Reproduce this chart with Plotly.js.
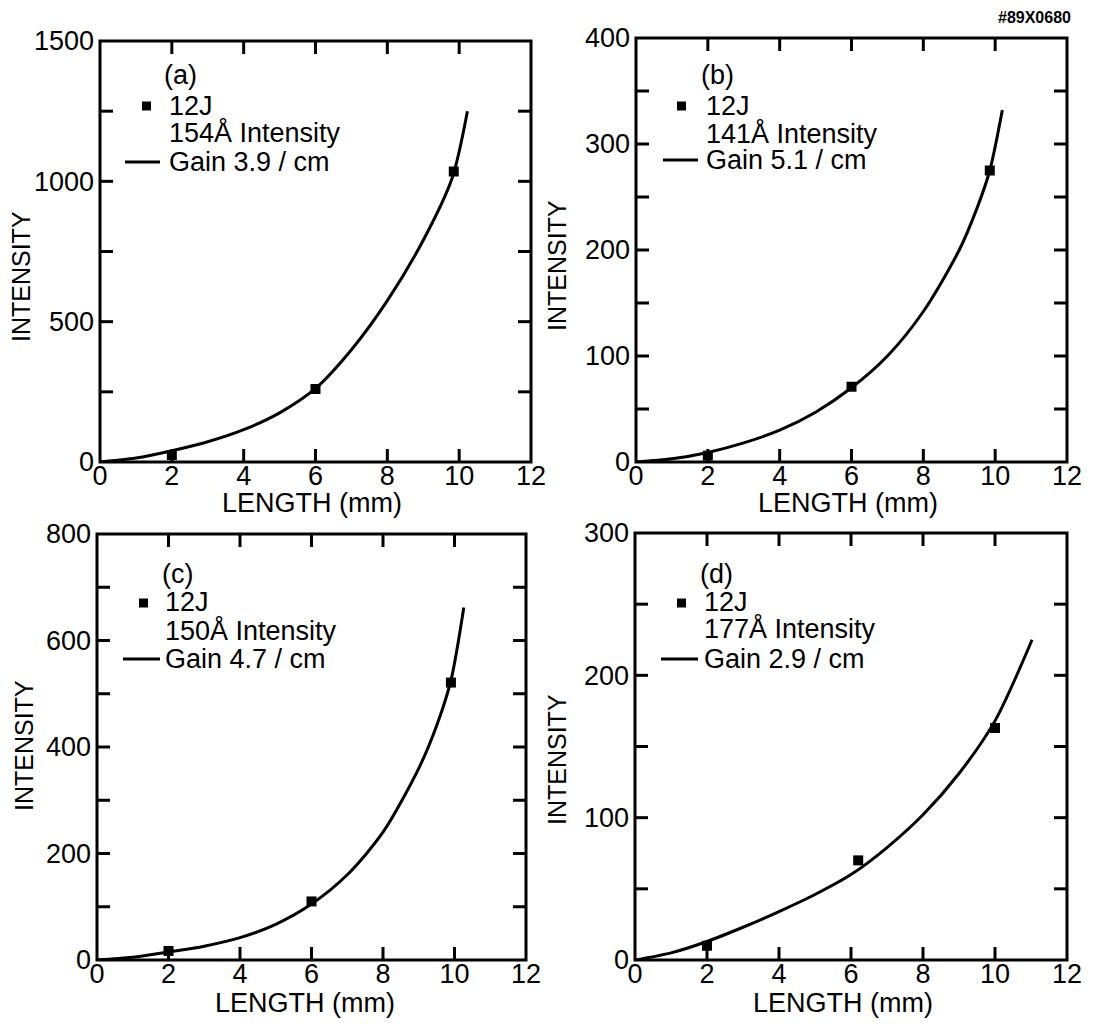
<!DOCTYPE html>
<html>
<head>
<meta charset="utf-8">
<script src="https://cdn.plot.ly/plotly-3.0.1.min.js"></script>
<style>html,body{margin:0;padding:0;background:#fff;}#chart{width:1094px;height:1024px;}</style>
</head>
<body>
<div id="chart"></div>
<script>
// ---- Data ----
// (a) 154 Å, gain 3.9 / cm
const aPtsX = [2, 6, 9.85];
const aPtsY = [25, 260, 1035];
const aFitX = [0, 1, 2, 3, 4, 5, 6, 7, 8, 9, 9.8, 10.23];
const aFitY = [0, 14, 40, 72, 115, 175, 262, 400, 575, 790, 1010, 1250];
// (b) 141 Å, gain 5.1 / cm
const bPtsX = [2, 6, 9.85];
const bPtsY = [6, 71, 275];
const bFitX = [0, 1, 2, 3, 4, 5, 6, 7, 8, 9, 9.5, 9.85, 10.2];
const bFitY = [0, 3, 9, 18, 30, 47, 70, 100, 142, 200, 240, 275, 332];
// (c) 150 Å, gain 4.7 / cm
const cPtsX = [2, 6, 9.9];
const cPtsY = [17, 110, 521];
const cFitX = [0, 1, 2, 3, 4, 5, 6, 7, 8, 9, 9.5, 9.9, 10.26];
const cFitY = [0, 5, 15, 26, 42, 67, 105, 160, 240, 360, 440, 525, 662];
// (d) 177 Å, gain 2.9 / cm
const dPtsX = [2, 6.2, 10];
const dPtsY = [10, 70, 163];
const dFitX = [0, 1, 2, 3, 4, 5, 6, 7, 8, 9, 10, 11.03];
const dFitY = [0, 5, 13, 23, 34, 46, 60, 79, 102, 131, 168, 225];

// tick positions (inside tick marks on all four sides)
const xTickVals = [2, 4, 6, 8, 10];
const aYTicks = [250, 500, 750, 1000, 1250];
const bYTicks = [50, 100, 150, 200, 250, 300, 350];
const cYTicks = [100, 200, 300, 400, 500, 600, 700];
const dYTicks = [50, 100, 150, 200, 250];

const panelLabels = ["(a)", "(b)", "(c)", "(d)"];
const energyLabel = "12J";
const lineLabels = ["154Å Intensity", "141Å Intensity", "150Å Intensity", "177Å Intensity"];
const gainLabels = ["Gain 3.9 / cm", "Gain 5.1 / cm", "Gain 4.7 / cm", "Gain 2.9 / cm"];
const xTitle = "LENGTH (mm)";
const yTitle = "INTENSITY";
const figId = "#89X0680";

// ---- Layout helpers (pixels -> paper) ----
const W = 1094, H = 1024;
const px = v => v / W;
const py = v => 1 - v / H;
const FONT = "Liberation Sans, Arial, sans-serif";

const pts = (x, y, xa, ya) => ({x, y, xaxis: xa, yaxis: ya, type: 'scatter', mode: 'markers',
  marker: {symbol: 'square', size: 10, color: '#000'}, showlegend: false, hoverinfo: 'x+y'});
const fit = (x, y, xa, ya) => ({x, y, xaxis: xa, yaxis: ya, type: 'scatter', mode: 'lines',
  line: {color: '#000', width: 3, shape: 'spline', smoothing: 0.8}, showlegend: false, hoverinfo: 'x+y'});

const data = [
  fit(aFitX, aFitY, 'x', 'y'), pts(aPtsX, aPtsY, 'x', 'y'),
  fit(bFitX, bFitY, 'x2', 'y2'), pts(bPtsX, bPtsY, 'x2', 'y2'),
  fit(cFitX, cFitY, 'x3', 'y3'), pts(cPtsX, cPtsY, 'x3', 'y3'),
  fit(dFitX, dFitY, 'x4', 'y4'), pts(dPtsX, dPtsY, 'x4', 'y4')
];

const panels = [
  {L: 100, R: 531, T: 41, B: 462, ymax: 1500, ydt: 500, yt: aYTicks},
  {L: 636, R: 1067, T: 38, B: 462, ymax: 400, ydt: 100, yt: bYTicks},
  {L: 97, R: 526, T: 534, B: 960, ymax: 800, ydt: 200, yt: cYTicks},
  {L: 635, R: 1067, T: 533, B: 960, ymax: 300, ydt: 100, yt: dYTicks}
];
const tickFont = {family: FONT, size: 27, color: '#000'};
const LABEL_LIFT = 5; // x tick labels sit a little closer to the axis in the reference
const TICK_W = 3, TICK_LEN = 13;

const layout = {
  width: W, height: H, margin: {l: 0, r: 0, t: 0, b: 0},
  paper_bgcolor: '#fff', plot_bgcolor: 'rgba(0,0,0,0)', showlegend: false,
  font: {family: FONT, color: '#000'},
  annotations: [], shapes: []
};

panels.forEach((p, i) => {
  const s = i === 0 ? '' : String(i + 1);
  layout['xaxis' + s] = {domain: [px(p.L), px(p.R)], anchor: 'free', position: py(p.B - LABEL_LIFT),
    range: [0, 12], tickmode: 'linear', dtick: 2, tick0: 0, ticks: '', showline: false,
    showgrid: false, zeroline: false, tickfont: tickFont, fixedrange: true};
  layout['yaxis' + s] = {domain: [py(p.B), py(p.T)], anchor: 'x' + s,
    range: [0, p.ymax], tickmode: 'linear', dtick: p.ydt, tick0: 0, ticks: '', showline: false,
    showgrid: false, zeroline: false, ticklabelstandoff: 5, tickfont: tickFont, fixedrange: true};
  // frame
  layout.shapes.push({type: 'rect', xref: 'paper', yref: 'paper', layer: 'above',
    x0: px(p.L), x1: px(p.R), y0: py(p.B), y1: py(p.T), line: {color: '#000', width: 3}, fillcolor: 'rgba(0,0,0,0)'});
  // inside x tick marks (bottom and top) as short line segments on the x/y scales
  const lenY = TICK_LEN * p.ymax / (p.B - p.T);
  const tx = [], ty = [];
  xTickVals.forEach(v => {
    tx.push(v, v, null, v, v, null);
    ty.push(0, lenY, null, p.ymax, p.ymax - lenY, null);
  });
  data.push({x: tx, y: ty, xaxis: 'x' + s, yaxis: 'y' + s, type: 'scatter', mode: 'lines',
    line: {color: '#000', width: TICK_W}, connectgaps: false, showlegend: false, hoverinfo: 'skip'});
  // inside y tick marks (left and right)
  const fy = TICK_LEN / (p.R - p.L);
  p.yt.forEach(v => {
    [[0, fy], [1 - fy, 1]].forEach(([a, b]) => layout.shapes.push({type: 'line', xref: 'paper', yref: 'y' + s,
      x0: px(p.L) + a * (px(p.R) - px(p.L)), x1: px(p.L) + b * (px(p.R) - px(p.L)), y0: v, y1: v,
      line: {color: '#000', width: TICK_W}, layer: 'above'}));
  });
});

// legend blocks (pixel positions of text rows)
const leg = [
  {lab: [162, 75], sq: [142, 106], txt: 167, r1: 106, r2: 132, ln: [125, 160], r3: 162},
  {lab: [699, 75], sq: [677, 106], txt: 704, r1: 106, r2: 133, ln: [663, 698], r3: 160},
  {lab: [160, 574], sq: [139, 603], txt: 163, r1: 602, r2: 630, ln: [123, 160], r3: 659},
  {lab: [698, 574], sq: [677, 603], txt: 702, r1: 602, r2: 628, ln: [661, 698], r3: 659}
];
const xTitlePos = [[312, 503], [848, 503], [305, 1003], [843, 1003]];
const yTitlePos = [[21, 277], [557, 266], [24, 746], [557, 760]];

function ann(x, y, text, opts) {
  return Object.assign({xref: 'paper', yref: 'paper', x: px(x), y: py(y), text, showarrow: false,
    xanchor: 'left', yanchor: 'middle', font: {family: FONT, size: 27, color: '#000'}}, opts || {});
}

for (let i = 0; i < 4; i++) {
  const g = leg[i];
  layout.annotations.push(ann(g.lab[0], g.lab[1], panelLabels[i]));
  layout.annotations.push(ann(g.txt, g.r1, energyLabel));
  layout.annotations.push(ann(g.txt, g.r2, lineLabels[i]));
  layout.annotations.push(ann(g.txt, g.r3, gainLabels[i]));
  layout.shapes.push({type: 'rect', xref: 'paper', yref: 'paper', x0: px(g.sq[0]), x1: px(g.sq[0] + 9),
    y0: py(g.sq[1] + 4.5), y1: py(g.sq[1] - 4.5), fillcolor: '#000', line: {width: 0}});
  layout.shapes.push({type: 'line', xref: 'paper', yref: 'paper', x0: px(g.ln[0]), x1: px(g.ln[1]),
    y0: py(g.r3), y1: py(g.r3), line: {color: '#000', width: 3}});
  layout.annotations.push(ann(xTitlePos[i][0], xTitlePos[i][1], xTitle, {xanchor: 'center'}));
  layout.annotations.push(ann(yTitlePos[i][0], yTitlePos[i][1], yTitle,
    {xanchor: 'center', textangle: -90, font: {family: FONT, size: 25, color: '#000'}}));
}
layout.annotations.push(ann(1073, 17, figId, {xanchor: 'right', font: {family: FONT, size: 16, color: '#000', weight: 'bold'}}));

Plotly.newPlot('chart', data, layout, {displayModeBar: false});
</script>
</body>
</html>
